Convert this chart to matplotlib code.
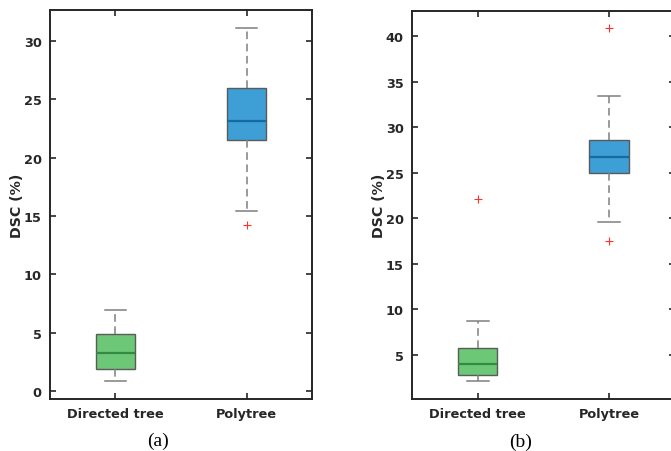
import matplotlib.pyplot as plt

groups = ["Directed tree", "Polytree"]

# panel (a): whisker low, Q1, median, Q3, whisker high, outliers
a_low = [0.83, 15.40]
a_q1 = [1.89, 21.54]
a_med = [3.23, 23.14]
a_q3 = [4.91, 25.97]
a_high = [6.97, 31.13]
a_fliers = [[], [14.25]]

# panel (b)
b_low = [2.10, 19.57]
b_q1 = [2.77, 24.99]
b_med = [4.01, 26.78]
b_q3 = [5.80, 28.64]
b_high = [8.73, 33.48]
b_fliers = [[22.1], [17.55, 40.95]]

face_colors = ["#6cc877", "#3e9ed6"]
median_colors = ["#348a42", "#176aa0"]
ink = "#262626"


def make_stats(low, q1, med, q3, high, fliers):
    out = []
    for i in range(len(groups)):
        out.append({"whislo": low[i], "q1": q1[i], "med": med[i], "q3": q3[i],
                    "whishi": high[i], "fliers": fliers[i], "label": groups[i]})
    return out


def draw_panel(ax, stats, ylim, yticks):
    bp = ax.bxp(stats, positions=[1, 2], widths=0.3, patch_artist=True,
                showfliers=True,
                boxprops=dict(edgecolor="#5a5a5a", linewidth=1.0),
                whiskerprops=dict(color="#7f7f7f", linestyle=(0, (5, 3)), linewidth=1.1),
                capprops=dict(color="#7f7f7f", linewidth=1.1),
                medianprops=dict(linewidth=1.6),
                flierprops=dict(marker="+", markeredgecolor="#ff3030",
                                markersize=6, markeredgewidth=0.8, linestyle="none"))
    for i, box in enumerate(bp["boxes"]):
        box.set_facecolor(face_colors[i])
    for i, m in enumerate(bp["medians"]):
        m.set_color(median_colors[i])
    for c in bp["caps"]:
        x0, x1 = c.get_xdata()
        mid = (x0 + x1) / 2
        c.set_xdata([mid - 0.083, mid + 0.083])
    ax.set_xlim(0.5, 2.5)
    ax.set_ylim(*ylim)
    ax.set_yticks(yticks)
    ax.set_xticks([1, 2])
    ax.set_xticklabels(groups)
    ax.tick_params(direction="in", length=4, width=1.2, colors=ink,
                   top=True, right=True, labelsize=9.3, pad=6)
    for lab in ax.get_xticklabels() + ax.get_yticklabels():
        lab.set_fontweight("bold")
    for s in ax.spines.values():
        s.set_linewidth(1.4)
        s.set_color(ink)
    ax.set_ylabel("DSC (%)", fontsize=10.2, fontweight="bold", color=ink, labelpad=0)


fig = plt.figure(figsize=(6.71, 4.52), dpi=100)
ax1 = fig.add_axes([0.0745, 0.115, 0.3905, 0.8606])
ax2 = fig.add_axes([0.614, 0.115, 0.3915, 0.859])

draw_panel(ax1, make_stats(a_low, a_q1, a_med, a_q3, a_high, a_fliers),
           (-0.7, 32.66), [0, 5, 10, 15, 20, 25, 30])
draw_panel(ax2, make_stats(b_low, b_q1, b_med, b_q3, b_high, b_fliers),
           (0.16, 42.8), [5, 10, 15, 20, 25, 30, 35, 40])

fig.text(158 / 671, 1 - 441 / 452, "(a)", family="Liberation Serif", fontsize=14,
         ha="center", va="center")
fig.text(521 / 671, 1 - 442 / 452, "(b)", family="Liberation Serif", fontsize=14,
         ha="center", va="center")

fig.savefig("out.png", dpi=100)
